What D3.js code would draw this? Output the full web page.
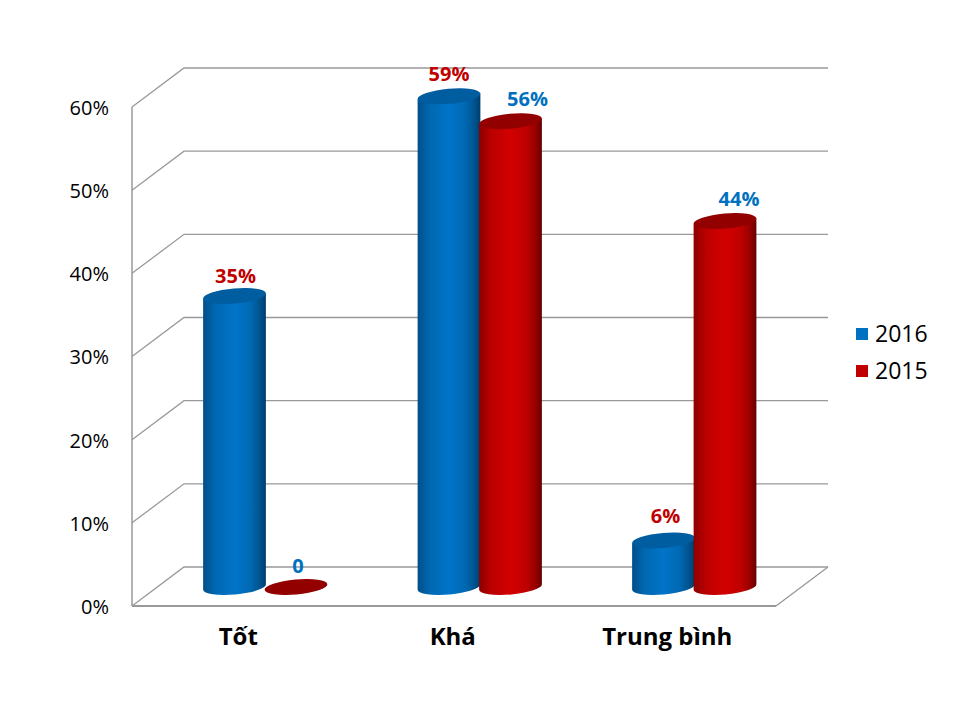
<!DOCTYPE html>
<html><head><meta charset="utf-8">
<script src="https://cdn.jsdelivr.net/npm/d3@7/dist/d3.min.js"></script>
<style>html,body{margin:0;padding:0;background:#fff}svg{display:block}text{font-family:"Open Sans",sans-serif}</style>
</head><body><svg id="c" width="960" height="720"></svg>
<script>
const categories = ["Tốt", "Khá", "Trung bình"];
const seriesNames = ["2016", "2015"];
const values2016 = [35, 59, 5.6];
const values2015 = [0, 56, 44];
const tickValues = [0, 10, 20, 30, 40, 50, 60];

const svg = d3.select("#c");
const left = 132, right = 776, depthX = 52, depthY = 39;
const yFront = d3.scaleLinear().domain([0, 60]).range([606, 107]);
const yBar = d3.scaleLinear().domain([0, 60]).range([587, 88]);
const x0 = d3.scaleBand().domain(categories).range([158, 801.5]);
const x1 = d3.scaleBand().domain(seriesNames).range([45.75, 168.75]);
const colors = {"2016": "#0070c0", "2015": "#c00000"};
const caps = {"2016": "#005d9f", "2015": "#930000"};
const grey = "#999999";

const defs = svg.append("defs");
[["2016", ["#004f88", "#0068b2", "#0074c8", "#0069b4", "#00548f", "#003d6c"]],
 ["2015", ["#8c0000", "#bc0000", "#d20000", "#bf0000", "#980000", "#640000"]]].forEach(([k, stops]) => {
  const g = defs.append("linearGradient").attr("id", "g" + k);
  stops.forEach((c, i) => g.append("stop").attr("offset", [0, .2, .5, .75, .9, 1][i]).attr("stop-color", c));
});

// walls
const wall = svg.append("g").attr("fill", "none").attr("stroke", grey);
tickValues.forEach(t => {
  const y = yFront(t);
  wall.append("path").attr("stroke-width", 1.3)
    .attr("d", d3.line()([[left, y], [left + depthX, y - depthY], [right + depthX, y - depthY]]));
});
wall.append("line").attr("x1", left).attr("x2", left).attr("y1", yFront(0)).attr("y2", yFront(60)).attr("stroke-width", 1.5);
wall.append("line").attr("x1", left).attr("x2", right).attr("y1", yFront(0)).attr("y2", yFront(0)).attr("stroke-width", 2);
wall.append("line").attr("x1", right).attr("x2", right + depthX).attr("y1", yFront(0)).attr("y2", yFront(0) - depthY).attr("stroke-width", 1.3);

// axes
const ax = svg.append("g").attr("transform", `translate(${left - 23},1)`)
  .call(d3.axisLeft(yFront).tickValues(tickValues).tickSize(0).tickPadding(0).tickFormat(d => d + "%"));
ax.select(".domain").remove();
ax.selectAll("text").attr("font-size", 20).attr("fill", "#000").style("font-family", '"Open Sans",sans-serif');

const bx = svg.append("g").attr("transform", "translate(-27,637)")
  .call(d3.axisBottom(x0).tickSize(0).tickPadding(0));
bx.select(".domain").remove();
bx.selectAll("text").attr("font-size", 24).attr("font-weight", 700).attr("fill", "#000").attr("dy", "0.32em")
  .attr("y", 0).style("font-family", '"Open Sans",sans-serif');

// cylinders
const rx = 31.5, ry = 7.5, tilt = -5, rad = tilt * Math.PI / 180;
const dx = rx * Math.cos(rad), dy = rx * Math.sin(rad);
function barPath(cx, yTop, yBase) {
  return `M${cx - dx},${yTop - dy}L${cx - dx},${yBase - dy}` +
    `A${rx},${ry},${tilt},0,0,${cx + dx},${yBase + dy}` +
    `L${cx + dx},${yTop + dy}Z`;
}
const labelNudge = {
  "2016": [[1, -20], [0, -22], [2, -24]],
  "2015": [[2, -21], [17, -22], [14, -22]]
};
const labelColor = {
  "2016": ["#c00000", "#c00000", "#c00000"],
  "2015": ["#0070c0", "#0070c0", "#0070c0"]
};
const pct = v => v === 0 ? "0" : Math.round(v) + "%";
const bars = svg.append("g"), labels = svg.append("g");
categories.forEach((c, i) => {
  seriesNames.forEach(s => {
    const v = (s === "2016" ? values2016 : values2015)[i];
    const cx = x0(c) + x1(s) + x1.bandwidth() / 2;
    const yT = yBar(v), yB = yBar(0);
    if (v > 0) {
      bars.append("path").attr("d", barPath(cx, yT, yB)).attr("fill", `url(#g${s})`);
    }
    bars.append("ellipse").attr("cx", cx).attr("cy", yT).attr("rx", rx).attr("ry", ry)
      .attr("transform", `rotate(${tilt},${cx},${yT})`).attr("fill", caps[s]);
    const [nx, ny] = labelNudge[s][i];
    labels.append("text").attr("x", cx + nx).attr("y", yT + ny).attr("dy", "0.35em")
      .attr("text-anchor", "middle").attr("font-size", 20).attr("font-weight", 700)
      .attr("fill", labelColor[s][i]).text(pct(v));
  });
});

// legend
const legendY = d3.scalePoint().domain(seriesNames).range([334, 371]);
seriesNames.forEach(s => {
  svg.append("rect").attr("x", 856).attr("y", legendY(s) - 6).attr("width", 12).attr("height", 12).attr("fill", colors[s]);
  svg.append("text").attr("x", 875).attr("y", legendY(s)).attr("dy", "0.35em").attr("font-size", 23).attr("fill", "#000").text(s);
});
</script></body></html>
